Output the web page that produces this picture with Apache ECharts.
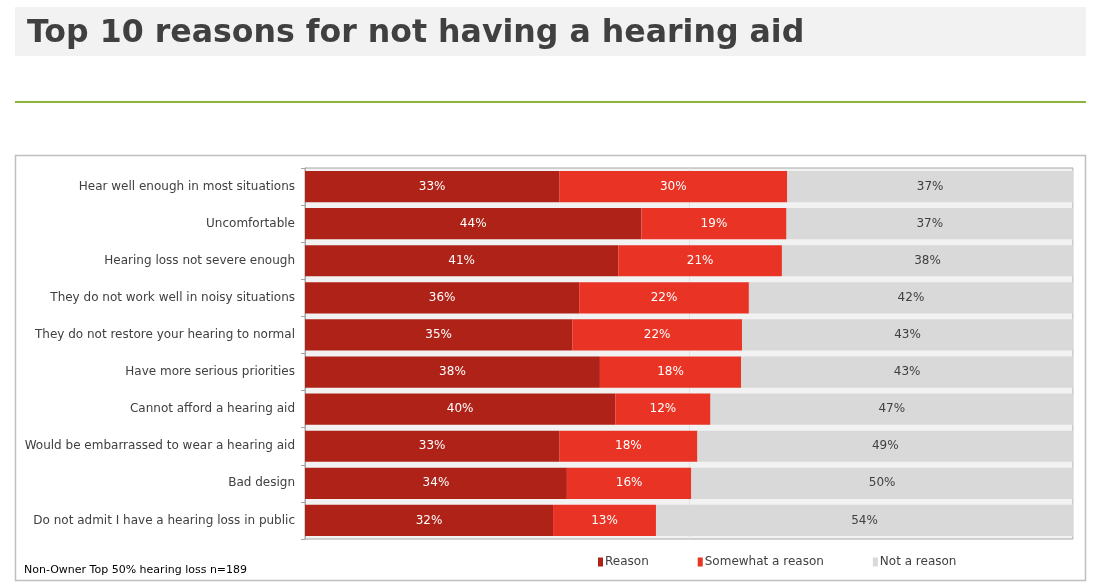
<!DOCTYPE html>
<html>
<head>
<meta charset="utf-8">
<script src="https://cdn.jsdelivr.net/npm/echarts@6/dist/echarts.min.js"></script>
<style>
  html, body { margin: 0; padding: 0; background: #ffffff; }
  #chart { width: 1102px; height: 583px; }
</style>
</head>
<body>
<div id="chart"></div>
<script>
// reasons, top to bottom
var reasons = [
  'Hear well enough in most situations',
  'Uncomfortable',
  'Hearing loss not severe enough',
  'They do not work well in noisy situations',
  'They do not restore your hearing to normal',
  'Have more serious priorities',
  'Cannot afford a hearing aid',
  'Would be embarrassed to wear a hearing aid',
  'Bad design',
  'Do not admit I have a hearing loss in public'
];
var reasonVals   = [33.1, 43.8, 40.8, 35.7, 34.8, 38.4, 40.4, 33.1, 34.1, 32.3];
var somewhatVals = [29.7, 18.9, 21.3, 22.1, 22.1, 18.4, 12.4, 18.0, 16.2, 13.4];
var notVals      = [37.2, 37.3, 37.9, 42.2, 43.1, 43.2, 47.2, 48.9, 49.7, 54.3];
var seriesNames = ['Reason', 'Somewhat a reason', 'Not a reason'];
var colors = ['#ae2218', '#e93325', '#d9d9d9'];

var chart = echarts.init(document.getElementById('chart'));

function pct(p) { return Math.round(p.value) + '%'; }

function makeSeries(name, data, color, textColor) {
  return {
    name: name,
    type: 'bar',
    stack: 'all',
    barCategoryGap: '16%',
    itemStyle: { color: color },
    label: {
      show: true,
      position: 'inside',
      formatter: pct,
      color: textColor,
      fontSize: 12,
      fontFamily: 'DejaVu Sans'
    },
    emphasis: { disabled: true },
    data: data
  };
}

var option = {
  backgroundColor: '#ffffff',
  animation: false,
  color: colors,
  title: {
    text: 'Top 10 reasons for not having a hearing aid',
    left: 22,
    top: 13,
    textStyle: {
      fontFamily: 'DejaVu Sans',
      fontWeight: 'bold',
      fontSize: 31.6,
      color: '#404040'
    }
  },
  graphic: [
    { type: 'rect', z: -10, shape: { x: 15, y: 7, width: 1071, height: 49 }, style: { fill: '#f2f2f2' } },
    { type: 'rect', shape: { x: 15, y: 101, width: 1071, height: 2 }, style: { fill: '#8db53c' } },
    { type: 'rect', z: -10, shape: { x: 15.5, y: 155.5, width: 1070, height: 425 }, style: { fill: 'none', stroke: '#bfbfbf', lineWidth: 1.5 } },
    { type: 'text', left: 24, top: 565, style: { text: 'Non-Owner Top 50% hearing loss n=189', fontFamily: 'DejaVu Sans', fontSize: 11, fill: '#000000' } }
  ],
  legend: {
    left: 593,
    top: 551,
    icon: 'rect',
    itemWidth: 5,
    itemHeight: 9,
    itemGap: 49,
    textStyle: { fontFamily: 'DejaVu Sans', fontSize: 12, color: '#404040', padding: [0, 0, 0, -3] },
    data: seriesNames
  },
  grid: {
    left: 305,
    right: 29,
    top: 168,
    bottom: 44,
    show: true,
    backgroundColor: '#f2f2f2',
    borderColor: '#a6a6a6',
    borderWidth: 1
  },
  xAxis: {
    type: 'value',
    min: 0,
    max: 100,
    interval: 50,
    axisLabel: { show: false },
    axisLine: { show: false },
    axisTick: { show: false },
    splitLine: { show: true, lineStyle: { color: '#e3e3e3' } }
  },
  yAxis: {
    type: 'category',
    inverse: true,
    data: reasons,
    axisLine: { lineStyle: { color: '#a6a6a6' } },
    axisTick: { show: true, length: 4, lineStyle: { color: '#a6a6a6' } },
    axisLabel: { fontFamily: 'DejaVu Sans', fontSize: 12, color: '#404040', margin: 10 }
  },
  series: [
    makeSeries(seriesNames[0], reasonVals, colors[0], '#ffffff'),
    makeSeries(seriesNames[1], somewhatVals, colors[1], '#ffffff'),
    makeSeries(seriesNames[2], notVals, colors[2], '#404040')
  ]
};

chart.setOption(option);
</script>
</body>
</html>
